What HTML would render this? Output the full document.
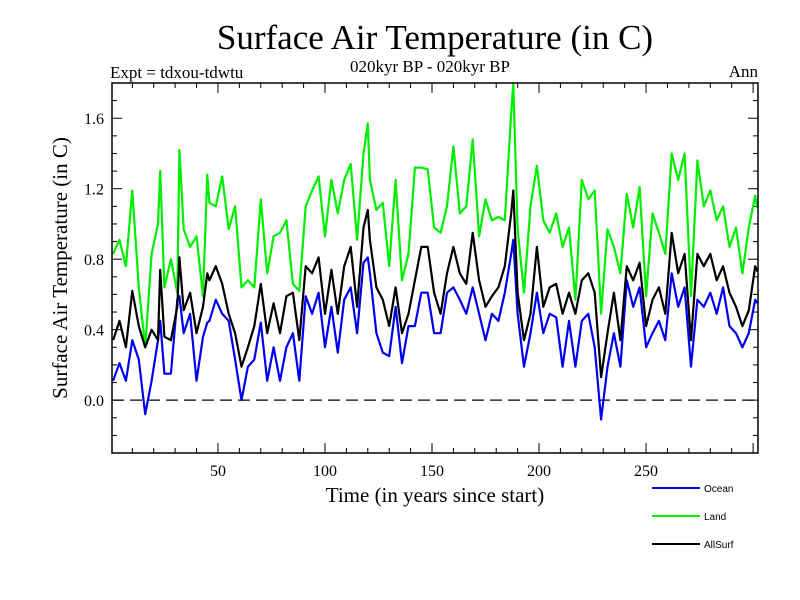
<!DOCTYPE html>
<html><head><meta charset="utf-8"><style>
html,body{margin:0;padding:0;background:#fff;}
svg{display:block;}
</style></head><body>
<svg id="chart" width="800" height="600" xmlns="http://www.w3.org/2000/svg">
<rect width="800" height="600" fill="#fff"/>
<text x="435" y="49" text-anchor="middle" font-family="Liberation Serif, serif" font-size="35">Surface Air Temperature (in C)</text>
<text x="110" y="78" font-family="Liberation Serif, serif" font-size="17">Expt = tdxou-tdwtu</text>
<text x="430" y="72" text-anchor="middle" font-family="Liberation Serif, serif" font-size="17">020kyr BP - 020kyr BP</text>
<text x="758" y="77" text-anchor="end" font-family="Liberation Serif, serif" font-size="17">Ann</text>
<text transform="translate(67,268) rotate(-90)" text-anchor="middle" font-family="Liberation Serif, serif" font-size="21">Surface Air Temperature (in C)</text>
<text x="435" y="502" text-anchor="middle" font-family="Liberation Serif, serif" font-size="21">Time (in years since start)</text>
<g id="ticks"></g>
<line id="zero" stroke="#000" stroke-width="1.3" stroke-dasharray="12,6"/>
<g id="series"></g>
<rect x="112" y="83" width="646" height="370" fill="none" stroke="#000" stroke-width="1.5"/>
<g id="legend"></g>
</svg>
<script>
const years1=[1,4,7,10,13,16,19,22,23,25,28,31,32,34,37,40,43,45,46,49,52,55,58,61,64,67,70,73,76];
const years2=[79,82,85,88,91,94,97,100,103,106,109,112,115,118,120,121,124,127,130,133,136,139,142,145,148,151];
const years3=[154,157,160,163,166,169,172,175,178,181,184,187,188,190,193,196,199,202,205,208,211,214,217,220,223,226];
const years4=[229,232,235,238,241,244,247,250,253,256,259,262,265,268,271,274,277,280,283,286,289,292,295,298,301,302];
const years=years1.concat(years2,years3,years4);
const land=[.83,.91,.76,1.19,.64,.30,.83,1.0,1.30,.64,.80,.61,1.42,.97,.87,.93,.59,1.28,1.12,1.10,1.27,.97,1.10,.64,.68,.64,1.14,.72,.93,
.95,1.02,.66,.62,1.10,1.19,1.27,.93,1.25,1.06,1.25,1.34,.91,1.40,1.57,1.25,1.08,1.12,.76,1.25,.68,.83,1.32,1.32,1.31,.98,
.95,1.10,1.44,1.06,1.10,1.48,.93,1.14,1.02,1.04,1.02,1.63,1.80,.97,.61,1.10,1.33,1.02,.95,1.06,.87,.98,.57,1.25,1.14,1.19,
.49,.97,.87,.72,1.17,.98,1.21,.59,1.06,.95,.83,1.40,1.25,1.40,.59,1.36,1.10,1.19,1.02,1.10,.87,.98,.72,.98,1.16,1.09];
const allsurf=[.34,.45,.30,.62,.42,.30,.40,.34,.74,.36,.34,.53,.81,.51,.61,.38,.53,.72,.68,.76,.66,.49,.38,.19,.30,.42,.66,.38,.55,
.38,.59,.61,.34,.76,.72,.81,.49,.74,.49,.76,.87,.53,.98,1.08,.91,.64,.57,.42,.64,.38,.49,.68,.87,.87,.61,
.49,.72,.87,.72,.66,.95,.68,.53,.59,.64,.76,1.06,1.19,.61,.34,.49,.87,.53,.64,.66,.49,.61,.49,.68,.72,.61,
.13,.38,.61,.34,.76,.68,.78,.42,.57,.64,.49,.95,.72,.83,.34,.83,.76,.83,.68,.76,.61,.53,.42,.51,.76,.73];
const ocean=[.11,.21,.11,.34,.23,-.08,.11,.34,.45,.15,.15,.57,.59,.38,.49,.11,.36,.44,.45,.57,.49,.45,.23,0,.19,.23,.44,.11,.30,
.11,.30,.38,.11,.59,.49,.61,.30,.53,.27,.57,.64,.38,.78,.81,.72,.38,.27,.25,.53,.21,.42,.42,.61,.61,.38,
.38,.61,.64,.57,.49,.64,.49,.34,.49,.45,.61,.83,.91,.49,.19,.38,.61,.38,.49,.47,.19,.45,.19,.45,.49,.30,
-.11,.19,.38,.19,.68,.53,.64,.30,.38,.45,.34,.72,.53,.64,.19,.57,.53,.61,.49,.64,.42,.38,.30,.38,.57,.55];
const xTicks=[50,100,150,200,250];
const yTicks=[0.0,0.4,0.8,1.2,1.6];
const yTickLabels=["0.0","0.4","0.8","1.2","1.6"];
const seriesNames=["Ocean","Land","AllSurf"];

const NS="http://www.w3.org/2000/svg";
const L=112,R=758,T=83,B=453;
const xMin=0.5,xMax=302.3,yMin=-0.30,yMax=1.80;
function xs(t){return L+(t-xMin)/(xMax-xMin)*(R-L);}
function ys(v){return B-(v-yMin)/(yMax-yMin)*(B-T);}
function mk(tag,attrs,parent){const e=document.createElementNS(NS,tag);for(const k in attrs)e.setAttribute(k,attrs[k]);parent.appendChild(e);return e;}

const tg=document.getElementById('ticks');
for(let t=10;t<=300;t+=10){
  const major=t%50===0;const len=major?10:5;const x=xs(t);
  const a=mk('line',{x1:x,x2:x,y1:B,y2:B-len,stroke:'#000','stroke-width':1},tg);
  
  
  const b=mk('line',{x1:x,x2:x,y1:T,y2:T+len,stroke:'#000','stroke-width':1},tg);
  
  
}
xTicks.forEach(t=>{
  const tx=mk('text',{x:xs(t),y:476,'text-anchor':'middle','font-family':'Liberation Serif, serif','font-size':16},tg);
  tx.textContent=t;
  
  
});
for(let i=-2;i<=17;i++){
  const v=i/10;const major=i%4===0;const len=major?10:5;const y=ys(v);
  const a=mk('line',{x1:L,x2:L+len,y1:y,y2:y,stroke:'#000','stroke-width':1},tg);
  
  
  const b=mk('line',{x1:R,x2:R-len,y1:y,y2:y,stroke:'#000','stroke-width':1},tg);
  
  
}
yTicks.forEach((v,i)=>{
  const tx=mk('text',{x:104,y:ys(v)+6,'text-anchor':'end','font-family':'Liberation Serif, serif','font-size':16},tg);
  tx.textContent=yTickLabels[i];
  
  
});
const z=document.getElementById('zero');
z.setAttribute('x1',L);z.setAttribute('x2',R);z.setAttribute('y1',ys(0));z.setAttribute('y2',ys(0));

const sg=document.getElementById('series');
function draw(vals,color,name){
  const d=vals.map((v,i)=>(i?'L':'M')+xs(years[i]).toFixed(1)+','+ys(v).toFixed(1)).join(' ');
  const p=mk('path',{d:d,fill:'none',stroke:color,'stroke-width':2.2,'stroke-linejoin':'round'},sg);
  
  
}
draw(land,'#00ee00','land-line');
draw(ocean,'#0000ee','ocean-line');
draw(allsurf,'#000000','allsurf-line');

const lg=document.getElementById('legend');
const lcol=['#0000ee','#00ee00','#000000'];
seriesNames.forEach((n,i)=>{
  const y=488+i*28;
  const l=mk('line',{x1:652,x2:700,y1:y,y2:y,stroke:lcol[i],'stroke-width':2},lg);
  
  
  const t=mk('text',{x:704,y:y+4,'font-family':'Liberation Sans, sans-serif','font-size':10},lg);
  t.textContent=n;
  
  
});
</script>
</body></html>
